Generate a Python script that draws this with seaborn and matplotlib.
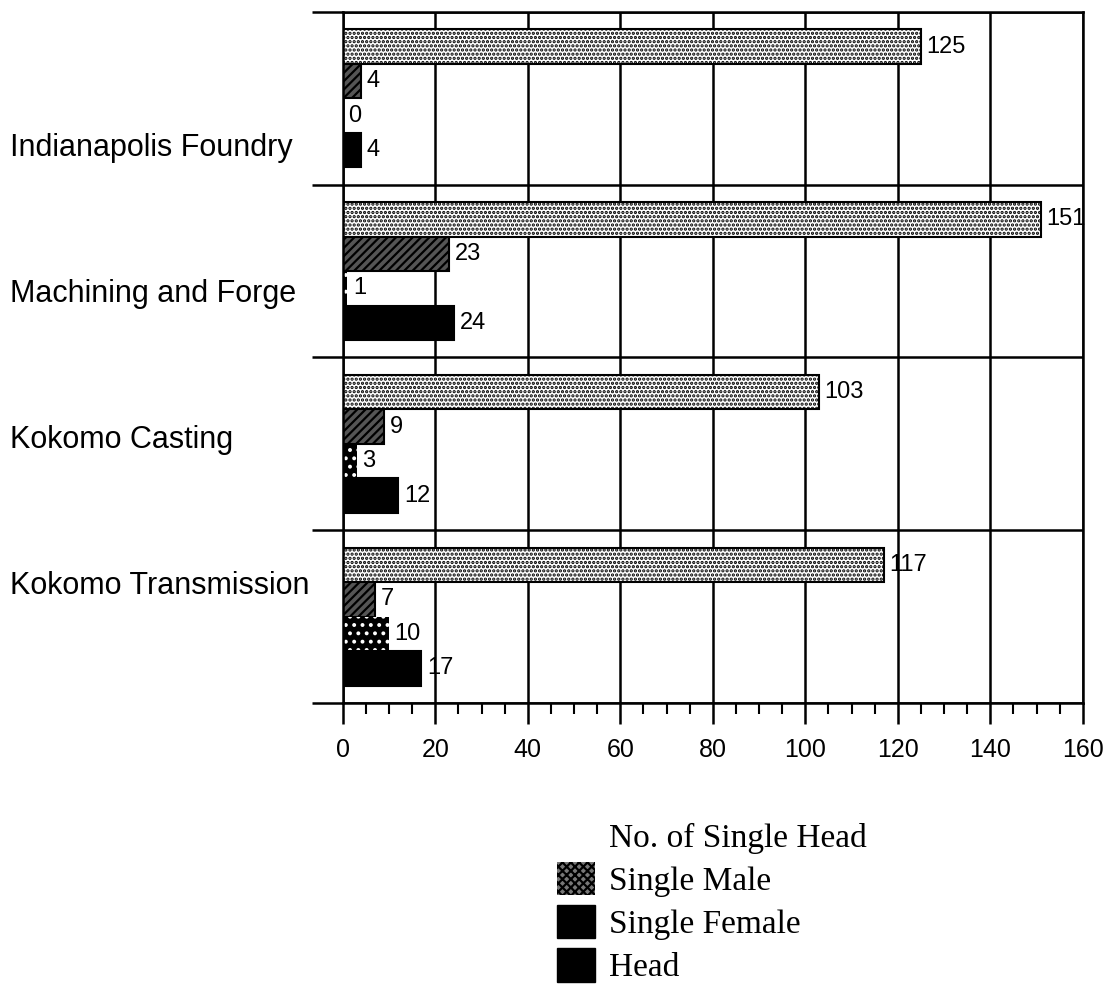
import numpy as np
import pandas as pd
import seaborn as sns
import matplotlib.pyplot as plt
import matplotlib.patches as mpatches
from matplotlib.ticker import MultipleLocator

sites = ['Indianapolis Foundry', 'Machining and Forge', 'Kokomo Casting', 'Kokomo Transmission']
series = ['No. of Single Head', 'Single Male', 'Single Female', 'Head']
single_head = [125, 151, 103, 117]
single_male = [4, 23, 9, 7]
single_female = [0, 1, 3, 10]
head = [4, 24, 12, 17]

df = pd.DataFrame({
    'site': sites * 4,
    'series': np.repeat(series, len(sites)),
    'count': single_head + single_male + single_female + head,
})

sns.set_style('white')
plt.rcParams['font.family'] = ['Liberation Sans', 'DejaVu Sans']
plt.rcParams['hatch.linewidth'] = 1.6
plt.rcParams['text.color'] = 'black'
plt.rcParams['xtick.color'] = 'black'
plt.rcParams['ytick.color'] = 'black'
plt.rcParams['xtick.labelcolor'] = 'black'
plt.rcParams['ytick.labelcolor'] = 'black'

fig = plt.figure(figsize=(11.06, 9.98), dpi=100)
ax = fig.add_axes([0.310, 0.2956, 0.669, 0.6924])

sns.barplot(data=df, y='site', x='count', hue='series', orient='h',
            order=sites, hue_order=series,
            palette=['white', '#555555', 'black', 'black'],
            edgecolor='black', linewidth=1.5, width=0.8,
            saturation=1, legend=False, ax=ax)

# fill patterns like the old print
styles = [('white', 'black', '....'), ('#555555', 'black', '////'),
          ('black', 'white', '..'), ('black', 'black', None)]
for cont, (fc, ec, hatch) in zip(ax.containers, styles):
    for bar in cont.patches:
        bar.set_facecolor(fc)
        bar.set_edgecolor(ec)
        if hatch:
            bar.set_hatch(hatch)
        if ec == 'white':
            bar.set_linewidth(0)
    ax.bar_label(cont, padding=4, fontsize=17, color='black')

ax.set_xlim(0, 160)
ax.set_ylim(3.5, -0.5)
ax.xaxis.set_major_locator(MultipleLocator(20))
ax.xaxis.set_minor_locator(MultipleLocator(5))
ax.grid(axis='x', which='major', color='black', linewidth=1.8)

# group separators
ax.set_yticks(np.arange(-0.5, 4, 1), minor=True)
ax.grid(axis='y', which='minor', color='black', linewidth=1.8)
ax.set_yticks([0.27, 1.11, 1.96, 2.80], labels=sites)
ax.set_axisbelow(True)

ax.tick_params(axis='x', which='major', direction='out', length=15, width=1.8,
               labelsize=18, pad=10, bottom=True)
ax.tick_params(axis='x', which='minor', direction='out', length=8, width=1.5, bottom=True)
ax.tick_params(axis='y', which='minor', direction='out', length=22, width=1.8, left=True)
ax.tick_params(axis='y', which='major', length=0, labelsize=22, pad=240)
for lab in ax.get_yticklabels():
    lab.set_horizontalalignment('left')

for side in ['left', 'right', 'top', 'bottom']:
    ax.spines[side].set_visible(True)
    ax.spines[side].set_color('black')
    ax.spines[side].set_linewidth(1.8)
ax.set_xlabel('')
ax.set_ylabel('')

handles = [
    mpatches.Patch(facecolor='none', edgecolor='none'),
    mpatches.Patch(facecolor='#777777', edgecolor='black', hatch='xxxx', linewidth=0),
    mpatches.Patch(facecolor='black', edgecolor='black'),
    mpatches.Patch(facecolor='black', edgecolor='black'),
]
fig.legend(handles, series, loc='upper left',
           bbox_to_anchor=(527 / 1106, 1 - 789 / 998), frameon=False,
           prop={'family': 'Liberation Serif', 'size': 24},
           handlelength=1.15, handleheight=1.15, labelspacing=0.25,
           handletextpad=0.4)

fig.savefig('out.png', dpi=100)
